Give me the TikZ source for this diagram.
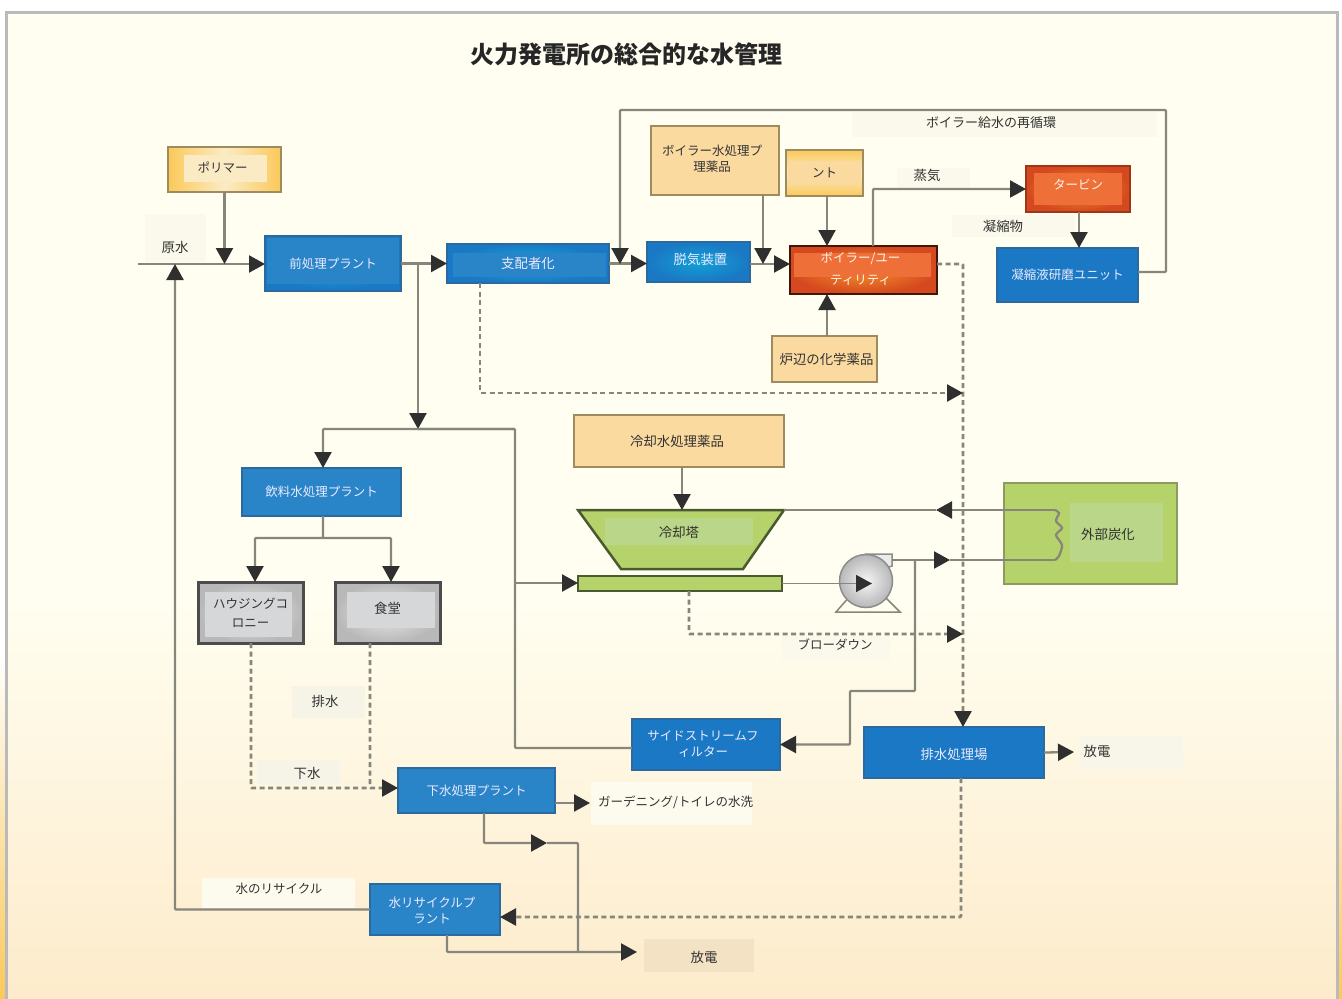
\documentclass[tikz,border=0pt]{standalone}
\usepackage{fontspec}
\setmainfont{Noto Sans CJK JP}
\usetikzlibrary{arrows.meta}

\definecolor{pagetop}{HTML}{FFFEF0}
\definecolor{pagelow}{HTML}{FDEBCB}
\definecolor{pipegray}{HTML}{87867A}
\definecolor{tipdark}{HTML}{2F2F2F}
\definecolor{blueedge}{HTML}{2A6A9E}
\definecolor{bluefill}{HTML}{2A84C8}
\definecolor{bluerim}{HTML}{1A78C4}
\definecolor{sandfill}{HTML}{FBDAA0}
\definecolor{sandpale}{HTML}{FBEBC4}
\definecolor{sandedge}{HTML}{9E8C5E}
\definecolor{goldrim}{HTML}{FBC95A}
\definecolor{orangefill}{HTML}{EE7038}
\definecolor{orangeglow}{HTML}{F5902A}
\definecolor{orangerim}{HTML}{D4491F}
\definecolor{greyfill}{HTML}{D6D7D9}
\definecolor{greenfill}{HTML}{B5D36A}
\definecolor{greenpatch}{HTML}{BAD688}
\definecolor{greenedge}{HTML}{8C9C60}
\definecolor{greendark}{HTML}{4A5A30}

\newcommand\nudge[3]{\raisebox{#2}[\height][\depth]{\kern#1\relax #3\kern-#1\relax}}

\tikzset{
  txt/.style={font=\fontsize{12.5}{16}\selectfont, align=center, inner sep=0pt, text=black!80},
  kanji/.style={font=\fontsize{13.4}{16}\selectfont},
  patch/.style n args={5}{path picture={\fill[#5]
      ([xshift=#1,yshift=-#2]path picture bounding box.north west) rectangle
      ([xshift=-#3,yshift=#4]path picture bounding box.south east);}},
  plainbox/.style={draw, line width=1.6pt, inner sep=0pt, outer sep=0pt, font=\fontsize{12.5}{16}\selectfont, align=center},
  bluebox/.style={plainbox, draw=blueedge, fill=bluefill, text=white!92!blue},
  sandbox/.style={plainbox, draw=sandedge, fill=sandfill, text=black!80},
  goldbox/.style={plainbox, draw=sandedge, text=black!80},
  redbox/.style={plainbox, inner color=orangeglow, outer color=orangerim, text=white!92!orange},
  greybox/.style={plainbox, draw=black!70, line width=3pt, inner color=black!8, outer color=black!28, text=black!80},
  greenbox/.style={plainbox, draw=greenedge, fill=greenfill, text=black!80},
  pipe/.style={draw=pipegray, line width=2.3pt, rounded corners=1pt},
  flow/.style={pipe, -{Triangle[length=16pt,width=17pt,color=tipdark]}},
  drainpipe/.style={pipe, line width=2.6pt, dash pattern=on 5pt off 3.5pt},
  drainflow/.style={drainpipe, -{Triangle[length=16pt,width=17pt,color=tipdark]}},
}

\begin{document}
\begin{tikzpicture}[x=1pt,y=-1pt]
  \useasboundingbox (0,0) rectangle (1342,999);
  % 背景
  \fill[white] (0,0) rectangle (1342,999);
  \fill[pagetop] (6,12) rectangle (1337,600);
  \shade[top color=pagetop, bottom color=pagelow] (6,600) rectangle (1337,999);
  \shade[top color=white, bottom color=goldrim] (0,650) rectangle (6,999);
  \shade[top color=white, bottom color=goldrim] (1337,650) rectangle (1342,999);
  \draw[black!27, line width=3pt] (6,999) -- (6,12) -- (1337,12) -- (1337,999);

  % ラベルの下地
  \fill[black!2!pagetop] (145,214) rectangle (206,262);
  \fill[black!2!pagetop] (852,112) rectangle (1157,137);
  \fill[black!2!pagetop] (897,168) rectangle (970,188);
  \fill[black!2!pagetop] (952,215) rectangle (1075,237);
  \fill[black!2!pagetop] (782,636) rectangle (890,660);
  \fill[black!4!pagetop] (292,686) rectangle (365,718);
  \fill[black!4!pagetop] (257,760) rectangle (340,785);
  \fill[black!3!pagetop] (1080,736) rectangle (1183,770);
  \fill[black!1!pagetop] (591,782) rectangle (752,825);
  \fill[black!1!pagetop] (202,878) rectangle (355,908);
  \fill[black!4!pagelow] (644,939) rectangle (754,972);

  \node (title) at (626,54) [font=\fontsize{24}{28}\selectfont\bfseries, text=black!85, inner sep=0pt] {火力発電所の総合的な水管理};

  % 装置
  \node (polymer) at (224.5,169.5) [goldbox, left color=goldrim, right color=goldrim, middle color=sandpale, patch={16pt}{8pt}{14pt}{10pt}{sandpale}, minimum width=113pt, minimum height=45pt] {\nudge{-2pt}{2pt}{ポリマー}};
  \node (pre) at (333,263.5) [bluebox, inner color=cyan!35!bluerim, outer color=bluerim, patch={2pt}{2pt}{2pt}{7pt}{bluefill}, minimum width=136pt, minimum height=55pt] {前処理プラント};
  \node (sup) at (528,263.5) [bluebox, kanji, inner color=cyan!40!bluerim, outer color=bluerim, patch={6pt}{9pt}{3pt}{6pt}{bluefill}, minimum width=162pt, minimum height=39pt] {支配者化};
  \node (deaer) at (698.5,262) [bluebox, kanji, inner color=cyan!30!bluerim, outer color=bluerim, minimum width=103pt, minimum height=40pt] {\nudge{2pt}{3pt}{脱気装置}};
  \node (bwchem) at (715,160.5) [sandbox, minimum width=128pt, minimum height=69pt] {\nudge{-3pt}{2pt}{ボイラー水処理プ}\\\nudge{-3pt}{2pt}{理薬品}};
  \node (vent) at (824.5,173) [goldbox, top color=goldrim, bottom color=goldrim, middle color=sandpale, patch={2pt}{11pt}{2pt}{11pt}{sandfill}, minimum width=77pt, minimum height=46pt] {ント};
  \node (boiler) at (863.5,270) [redbox, draw=black!70!orangerim, line width=2.5pt, patch={4pt}{7pt}{6pt}{17pt}{orangefill}, minimum width=147pt, minimum height=48pt] {\nudge{-3pt}{1pt}{ボイラー/ユー}\\[6pt]\nudge{-3pt}{1pt}{ティリティ}};
  \node (turbine) at (1078,189) [redbox, draw=orangerim!75!black, patch={8pt}{7pt}{8pt}{7pt}{orangefill}, minimum width=104pt, minimum height=46pt] {\nudge{0pt}{4pt}{タービン}};
  \node (polish) at (1067.5,275) [bluebox, fill=bluerim, minimum width=141pt, minimum height=54pt] {凝縮液研磨ユニット};
  \node (hearth) at (824.5,359) [sandbox, kanji, minimum width=105pt, minimum height=46pt] {\nudge{2pt}{0pt}{炉辺の化学薬品}};
  \node (coolchem) at (679,441) [sandbox, kanji, minimum width=210pt, minimum height=52pt] {\nudge{-2pt}{0pt}{冷却水処理薬品}};
  \fill[greenfill] (578,510) -- (784,510) -- (743,569) -- (621,569) -- cycle;
  \fill[greenpatch] (605,518) rectangle (753,545);
  \draw[greendark, line width=2.5pt] (578,510) -- (784,510) -- (743,569) -- (621,569) -- cycle;
  \node (tower) at (679,532) [txt, kanji] {冷却塔};
  \node (basin) at (680,583.5) [greenbox, draw=greendark, line width=2.5pt, minimum width=204pt, minimum height=15pt] {};
  \node (carbon) at (1090.5,533.5) [greenbox, minimum width=173pt, minimum height=101pt] {};
  \fill[greenpatch] (1070,503) rectangle (1163,562);
  \node (carbontxt) at (1108,534) [txt, kanji] {外部炭化};
  \node (potable) at (321.5,492) [bluebox, minimum width=159pt, minimum height=48pt] {飲料水処理プラント};
  \node (housing) at (250.5,612.5) [greybox, patch={7pt}{10pt}{11pt}{6pt}{greyfill}, minimum width=105pt, minimum height=61pt] {ハウジングコ\\[3pt]ロニー};
  \node (canteen) at (387.5,612.5) [greybox, kanji, patch={12pt}{10pt}{5pt}{15pt}{greyfill}, minimum width=105pt, minimum height=61pt] {\nudge{0pt}{4pt}{食堂}};
  \node (sidefilt) at (706,744.5) [bluebox, fill=bluerim, minimum width=148pt, minimum height=51pt] {\nudge{-3pt}{0pt}{サイドストリームフ}\\\nudge{-3pt}{0pt}{ィルター}};
  \node (drain) at (954,752.5) [bluebox, kanji, fill=bluerim, minimum width=180pt, minimum height=51pt] {\nudge{0pt}{-2pt}{排水処理場}};
  \node (sewage) at (476.5,790.5) [bluebox, minimum width=157pt, minimum height=45pt] {下水処理プラント};
  \node (reclaim) at (435,909.5) [bluebox, minimum width=130pt, minimum height=51pt] {\nudge{-3pt}{-1pt}{水リサイクルプ}\\\nudge{-3pt}{-1pt}{ラント}};

  % ポンプ
  \draw[pipegray, line width=1.5pt] (850,596) -- (836,612) -- (900,612) -- (884,596);
  \draw[draw=black!45, fill=black!8, line width=1.5pt] (866,554) -- (892,554) -- (892,566) -- (880,570) -- cycle;
  \node (pump) at (866,581) [circle, draw=black!45, line width=1.5pt, inner color=black!4, outer color=black!28, minimum size=53pt, inner sep=0pt, outer sep=0pt] {};

  % 文字
  \node (rawtxt) at (175,247) [txt, kanji] {原水};
  \node (recirctxt) at (991,123) [txt, font=\fontsize{13}{16}\selectfont] {ボイラー給水の再循環};
  \node (steamtxt) at (927,175) [txt, kanji] {蒸気};
  \node (condtxt) at (1003,226) [txt, kanji] {凝縮物};
  \node (blowtxt) at (835,645) [txt] {ブローダウン};
  \node (wastetxt) at (325,701) [txt, kanji] {排水};
  \node (sewertxt) at (307,773) [txt, kanji] {下水};
  \node (out1txt) at (1097,751) [txt, kanji] {放電};
  \node (gardentxt) at (598,802) [txt, anchor=west] {ガーデニング/トイレの水洗};
  \node (recytxt) at (279,889) [txt] {水のリサイクル};
  \node (out2txt) at (704,957) [txt, kanji] {放電};

  % 接続点
  \coordinate (rawin) at (138,264);
  \coordinate (jpoly) at (225,264);
  \coordinate (jrec) at (175,264);
  \coordinate (jpre) at (418,264);
  \coordinate (jtee) at (418,429);
  \coordinate (jcool) at (515,429);
  \coordinate (jbasin) at (515,583);
  \coordinate (jfilt) at (515,748);
  \coordinate (jloop) at (620,264);
  \coordinate (jchem) at (763,264);
  \coordinate (jpol) at (1166,272);
  \coordinate (jvert) at (827,300);
  \coordinate (jbusa) at (963,264);
  \coordinate (jbusb) at (963,393);
  \coordinate (jbusc) at (963,634);
  \coordinate (jtopa) at (1055,510);
  \coordinate (jtopb) at (936,510);
  \coordinate (jtowr) at (784,510);
  \coordinate (jtowc) at (682,510);
  \coordinate (jlowa) at (950,560);
  \coordinate (jlowb) at (1055,560);
  \coordinate (joutl) at (892,560);
  \coordinate (jside) at (915,560);
  \coordinate (jdrink) at (323,538);
  \coordinate (jback) at (578,843);
  \coordinate (jout) at (578,952);
  \coordinate (outa) at (637,952);
  \coordinate (outb) at (1074,752);
  \coordinate (outc) at (590,803);

  % 原水から前処理まで
  \draw[flow] (rawin) -- (pre.west |- rawin);
  \draw[flow] (polymer.south) -- (polymer.south |- jpoly);
  \draw[flow] (reclaim.west) -- (jrec |- reclaim.west) -- (jrec);
  \draw[flow] (pre.east) -- (sup.west);
  \draw[flow] (jpre) -- (jtee);
  \draw[flow] (jcool) -- (323,429) -- (potable.north -| 323,429);
  \draw[pipe] (jtee) -- (jcool) -- (jfilt) -- (sidefilt.west |- jfilt);
  \draw[flow] (jbasin) -- (basin.west |- jbasin);

  % ボイラー系統
  \draw[flow] (sup.east) -- (deaer.west |- sup.east);
  \draw[flow] (polish.east |- jpol) -- (jpol) -- (1166,110) -- (620,110) -- (jloop);
  \draw[flow] (deaer.east |- jchem) -- (boiler.west |- jchem);
  \draw[flow] (bwchem.south -| jchem) -- (jchem);
  \draw[flow] (vent.south -| jvert) -- (boiler.north -| jvert);
  \draw[flow] (hearth.north -| jvert) -- (boiler.south -| jvert);
  \draw[flow] (boiler.north -| 873,0) -- (873,189) -- (turbine.west);
  \draw[flow] (turbine.south -| 1079,0) -- (polish.north -| 1079,0);

  % 排水
  \draw[drainflow] (boiler.east |- jbusa) -- (jbusa) -- (jbusa |- drain.north);
  \draw[drainflow] (sup.south -| 480,0) -- (480,393) -- (jbusb);
  \draw[drainflow] (basin.south -| 689,0) -- (689,634) -- (jbusc);

  % 冷却塔とポンプ
  \draw[flow] (coolchem.south -| jtowc) -- (jtowc);
  \draw[pipe] (jtopb) -- (jtowr);
  \draw[flow] (jtopa) -- (jtopb);
  \draw[flow] (joutl) -- (jlowa);
  \draw[pipe] (jlowa) -- (jlowb);
  \draw[pipegray, line width=2.3pt] plot[smooth] coordinates {(jtopa) (1059,513) (1056,521) (1062,528) (1056,535) (1062,545) (1059,556) (jlowb)};
  \draw[flow, line width=1.5pt] (basin.east) -- (872,583.5);
  \draw[flow] (jside) -- (915,691) -- (850,691) -- (850,744.5) -- (sidefilt.east);

  % 生活排水
  \draw[flow] (potable.south -| jdrink) -- (jdrink) -- (255,538) -- (housing.north -| 255,0);
  \draw[flow] (jdrink) -- (391,538) -- (canteen.north -| 391,0);
  \draw[drainpipe] (housing.south -| 251,0) -- (251,788) -- (370,788);
  \draw[drainflow] (canteen.south -| 370,0) -- (370,788) -- (sewage.west |- 370,788);

  % 下水と再利用
  \draw[flow] (sewage.east |- outc) -- (outc);
  \draw[flow] (sewage.south -| 484,0) -- (484,843) -- (547,843);
  \draw[pipe] (547,843) -- (jback) -- (jout);
  \draw[flow] (reclaim.south -| 447,0) -- (447,952) -- (outa);
  \draw[flow] (drain.east) -- (outb);
  \draw[drainflow] (drain.south -| 961,0) -- (961,917) -- (reclaim.east |- 961,917);
\end{tikzpicture}
\end{document}
